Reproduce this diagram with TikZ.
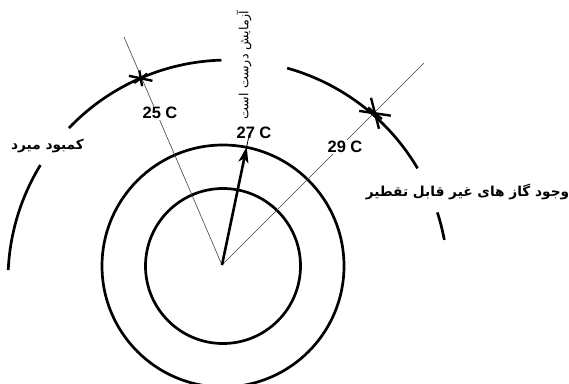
\documentclass[tikz,border=0pt]{standalone}
\usepackage{fontspec}
\setmainfont{Liberation Sans}
\newfontfamily\fa[Script=Arabic]{DejaVu Sans}
\TeXXeTstate=1
\usetikzlibrary{arrows.meta}
\begin{document}
\begin{tikzpicture}[x=1pt,y=1pt,
  big/.style={line width=2.7pt},
  thinline/.style={line width=0.6pt, black!75},
  starstroke/.style={line width=2.4pt},
  lbl/.style={font=\fontsize{16.5}{18}\selectfont\bfseries, inner sep=1pt},
  falbl/.style={font=\fa\bfseries\fontsize{13.7}{15}\selectfont, inner sep=0pt}]
\useasboundingbox (0,0) rectangle (569,-383);
\coordinate (O) at (222,-265);
\coordinate (C) at (223,-266);
\coordinate (B) at (228,-280);
% concentric circles
\draw[big] (C) circle[radius=121pt];
\draw[big] (C) circle[radius=77.5pt];
% big broken arc
\draw[big] ([shift={(B)}]148.5:220pt) arc[start angle=148.5,end angle=177.4,radius=220pt];
\draw[big] ([shift={(B)}]91.7:220pt) arc[start angle=91.7,end angle=136.3,radius=220pt];
\draw[big] ([shift={(B)}]30.5:220pt) arc[start angle=30.5,end angle=74.4,radius=220pt];
\draw[big] ([shift={(B)}]10.5:220pt) arc[start angle=10.5,end angle=17.9,radius=220pt];
% radial lines
\coordinate (T25) at (124,-37);
\coordinate (T29) at (424,-63);
\coordinate (A) at (246.7,-146.7);
\draw[thinline] (O) -- (T25);
\draw[thinline] (O) -- (T29);
\draw[line width=2.6pt, -{Stealth[length=16pt,width=10pt,inset=4pt]}] (O) -- (A);
\draw[line width=0.8pt] (A) -- (249.5,-133);
% stars
\coordinate (S1) at (140.7,-78.3);
\coordinate (S2) at (375,-113.3);
\foreach \a/\r in {100/8, -12/12, 35.5/8}
  \draw[starstroke] ([shift={(S1)}]\a:\r) -- ([shift={(S1)}]\a+180:\r);
\foreach \a/\r in {104.5/16, -8.5/16, -40/9}
  \draw[starstroke] ([shift={(S2)}]\a:\r) -- ([shift={(S2)}]\a+180:\r);
% labels
\node[lbl, fill=white] (l25) at (160,-113) {25 C};
\node[lbl, fill=white] (l29) at (345,-147) {29 C};
\node[lbl] (l27) at (254,-133) {27 C};
\node[falbl] (kam) at (47.5,-146) {\beginR کمبود میرد\endR};
\node[falbl] (gaz) at (467.5,-192) {\beginR وجود گاز های غیر قابل تقطیر\endR};
\node[font=\fa\fontsize{12.6}{14}\selectfont, rotate=90, inner sep=0pt] (azm) at (244,-65) {\beginR آزمایش درست است\endR};
\end{tikzpicture}
\end{document}
